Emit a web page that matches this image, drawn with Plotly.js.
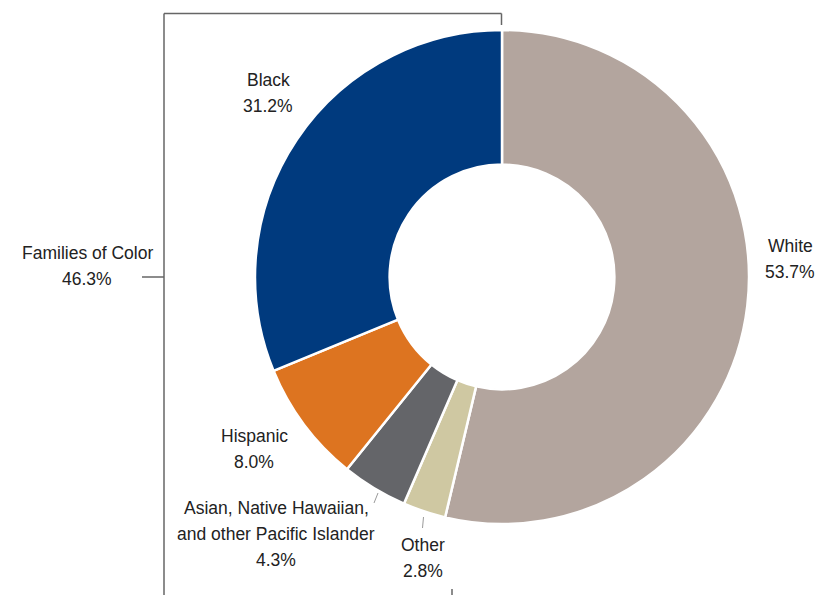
<!DOCTYPE html>
<html>
<head>
<meta charset="utf-8">
<script src="https://cdn.plot.ly/plotly-3.0.1.min.js"></script>
<style>html,body{margin:0;padding:0;background:#fff;}#chart{width:818px;height:595px;}</style>
</head>
<body>
<div id="chart"></div>
<script>
// Data (clockwise from 12 o'clock)
var labels = ["White", "Other", "Asian, Native Hawaiian,|and other Pacific Islander", "Hispanic", "Black"];
var values = [53.7, 2.8, 4.3, 8.0, 31.2];
var colors = ["#B3A59E", "#CFC8A2", "#646569", "#DD7420", "#003A7E"];
var groupLabel = "Families of Color";
var groupValue = values.slice(1).reduce(function(a, b){ return a + b; }, 0);

var W = 818, H = 595;
function px(x){ return x / W; }
function py(y){ return 1 - y / H; }

// pie geometry: center (502,277), radius 247
var cx = 502, cy = 277, r = 247;

var trace = {
  type: "pie",
  values: values,
  labels: labels.map(function(l){ return l.replace("|", " "); }),
  marker: {colors: colors, line: {color: "#ffffff", width: 2.5}},
  hole: 0.455,
  sort: false,
  direction: "clockwise",
  rotation: 0,
  textinfo: "none",
  hoverinfo: "label+percent",
  showlegend: false,
  domain: {x: [px(cx - r), px(cx + r)], y: [py(cy + r), py(cy - r)]}
};

// label anchor positions: center x, y of first line
var labelPos = [
  [790, 246], [423, 545], [276, 508], [254, 436], [268, 80]
];
var lineGap = 26;
var font = {family: "Liberation Sans, Arial, sans-serif", size: 17.5, color: "#222222"};
var annotations = [];
function addBlock(lines, x, y0){
  lines.forEach(function(t, k){
    annotations.push({
      xref: "paper", yref: "paper", x: px(x), y: py(y0 + k * lineGap),
      xanchor: "center", yanchor: "middle", showarrow: false,
      text: t, font: font, align: "center"
    });
  });
}
labels.forEach(function(l, i){
  addBlock(l.split("|").concat([values[i].toFixed(1) + "%"]), labelPos[i][0], labelPos[i][1]);
});
addBlock([groupLabel, groupValue.toFixed(1) + "%"], 87, 253);

var lineStyle = {color: "#666666", width: 1.5};
var thin = {color: "#9a9a9a", width: 1};
function seg(x0, y0, x1, y1, ln){
  return {type: "line", xref: "paper", yref: "paper", x0: px(x0), y0: py(y0), x1: px(x1), y1: py(y1), line: ln};
}
var shapes = [
  seg(164, 13.5, 501.5, 13.5, lineStyle),
  seg(501.5, 13.5, 501.5, 25, lineStyle),
  seg(164, 13.5, 164, 595, lineStyle),
  seg(142, 277, 164, 277, lineStyle),
  seg(452, 589, 452, 595, lineStyle),
  seg(378, 493, 374, 503, thin),
  seg(423.5, 517, 422.5, 528, thin)
];

var layout = {
  width: W, height: H,
  margin: {l: 0, r: 0, t: 0, b: 0, pad: 0},
  paper_bgcolor: "#ffffff",
  annotations: annotations,
  shapes: shapes
};

Plotly.newPlot("chart", [trace], layout, {displayModeBar: false, staticPlot: true});
</script>
</body>
</html>
